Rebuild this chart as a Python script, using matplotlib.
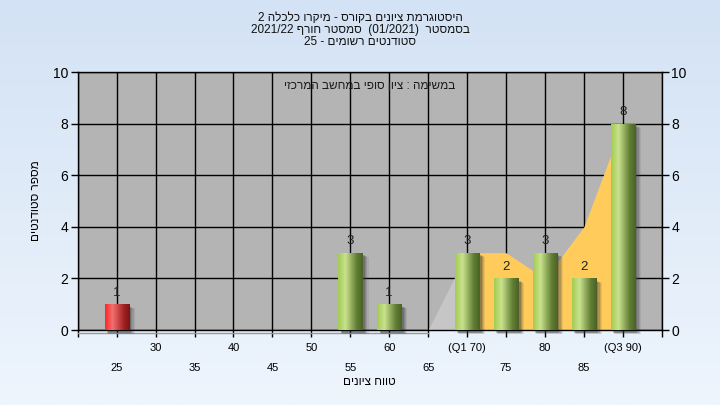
import re
import numpy as np
import matplotlib
matplotlib.use("Agg")
import matplotlib.pyplot as plt
from matplotlib.colors import LinearSegmentedColormap

plt.rcParams['font.family'] = ['Liberation Sans', 'DejaVu Sans']

# data
grades = [25, 30, 35, 40, 45, 50, 55, 60, 65, 70, 75, 80, 85, 90]
counts = [1, 0, 0, 0, 0, 0, 3, 1, 0, 3, 2, 3, 2, 8]
failing = [25]
area_x = [65, 70, 75, 80, 85, 90]
area_y = [0, 3, 3, 2, 4, 8]
top_labels = ["30", "40", "50", "60", "(Q1 70)", "80", "(Q3 90)"]
bottom_labels = ["25", "35", "45", "55", "65", "75", "85"]

title_lines = [
    "היסטוגרמת ציונים בקורס - מיקרו כלכלה 2",
    "בסמסטר  (01/2021)  סמסטר חורף 2021/22",
    "סטודנטים רשומים - 25",
]
task_text = "במשימה : ציון סופי במחשב המרכזי"
xlabel = "טווח ציונים"
ylabel = "מספר סטודנטים"


def rtl(s):
    # crude visual ordering for hebrew: reverse, keep number runs intact
    tokens = re.findall(r'[0-9A-Za-z/.]+|.', s)
    mirror = {'(': ')', ')': '('}
    return ''.join(mirror.get(t, t) for t in reversed(tokens))


fig = plt.figure(figsize=(7.2, 4.05), dpi=100)

# light blue background gradient
bg = fig.add_axes([0, 0, 1, 1], zorder=-10)
grad = np.linspace(0, 1, 256).reshape(-1, 1)
bg_cmap = LinearSegmentedColormap.from_list("bg", ["#d3e2f4", "#eef5fd"])
bg.imshow(grad, aspect="auto", cmap=bg_cmap, extent=[0, 1, 0, 1])
bg.axis("off")

ax = fig.add_axes([0.108, 0.185, 0.811, 0.637])
ax.set_facecolor("#b4b4b4")
ax.set_axisbelow(True)

# area behind the bars (Q1..Q3 band in yellow)
ax.fill_between(area_x[:2], area_y[:2], 0, color="#c6c6c6", lw=0, zorder=1)
ax.fill_between(area_x[1:], area_y[1:], 0, color="#ffcc5c", lw=0, zorder=1)

width = 3.1
green = LinearSegmentedColormap.from_list(
    "g", [(0, "#a2cc52"), (0.3, "#c9e28e"), (0.75, "#627f34"), (1, "#4a6226")])
red = LinearSegmentedColormap.from_list(
    "r", [(0, "#ff2626"), (0.3, "#f27070"), (0.75, "#a42222"), (1, "#7c1414")])
hgrad = np.linspace(0, 1, 64).reshape(1, -1)

shown = [(g, c) for g, c in zip(grades, counts) if c > 0]
xs = [g for g, c in shown]
hs = [c for g, c in shown]
bars = ax.bar(xs, hs, width=width, color="none", lw=0, zorder=4)

for x, h, rect in zip(xs, hs, bars):
    x0 = rect.get_x()
    # soft shadow to the lower right
    for k, a in enumerate([0.10, 0.14, 0.20, 0.28]):
        ax.add_patch(plt.Rectangle((x0 + 0.32 + 0.06 * (3 - k), -0.16 + 0.02 * k),
                                   width + 0.1 * (3 - k), h,
                                   color="#3a3a3a", alpha=a, lw=0,
                                   zorder=2, clip_on=False))
    cmap = red if x in failing else green
    im = ax.imshow(hgrad, cmap=cmap, aspect="auto",
                   extent=[x0, x0 + width, 0, h], zorder=4, interpolation="bilinear")
    im.set_clip_path(rect)
    ax.text(x, h + 0.22, str(h), ha="center", va="bottom",
            fontsize=9.5, color="#202020", zorder=6)

ax.set_xlim(20, 95)
ax.set_ylim(0, 10)

# staggered x labels: major ticks on the upper row, minor on the lower row
ax.set_xticks([30, 40, 50, 60, 70, 80, 90], top_labels)
ax.set_xticks([20, 25, 35, 45, 55, 65, 75, 85, 95],
              [""] + bottom_labels + [""], minor=True)
ax.tick_params(axis="x", which="major", direction="out", length=5,
               width=1, labelsize=8, pad=4)
ax.tick_params(axis="x", which="minor", direction="out", length=5,
               width=1, labelsize=8, pad=19)
ax.set_yticks(range(0, 11, 2))
ax.tick_params(axis="y", direction="out", length=5, width=1, labelsize=10,
               right=True, labelright=True, pad=2)

ax.grid(True, which="both", axis="x", color="black", lw=1)
ax.grid(True, axis="y", color="black", lw=1)
for sp in ax.spines.values():
    sp.set_color("black")
    sp.set_linewidth(1)

# faint floor line under the axis
ax.plot([20, 65], [-0.12, -0.12], color="#9a9a9a", lw=1, clip_on=False, zorder=1)

ax.text(0.5, 0.945, rtl(task_text), transform=ax.transAxes, ha="center",
        va="center", fontsize=8.5, color="#1a1a1a", zorder=7)

ax.set_xlabel(rtl(xlabel), fontsize=8.5, labelpad=2)
ax.set_ylabel(rtl(ylabel), fontsize=8.5, labelpad=8)

for i, line in enumerate(title_lines):
    fig.text(0.5, 1 - (18 + 12 * i) / 405, rtl(line), ha="center",
             va="center", fontsize=8.5, color="#111111")

fig.savefig("out.png", dpi=100)
